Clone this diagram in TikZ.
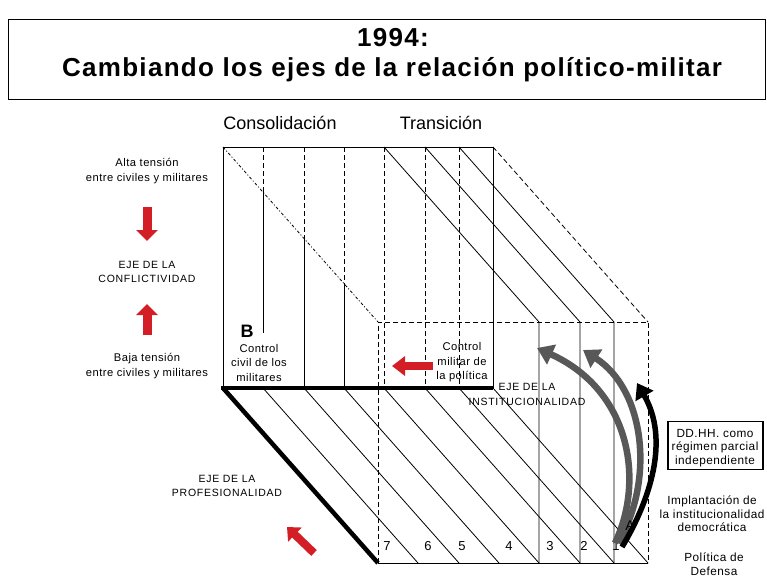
\documentclass[tikz,border=0pt]{standalone}
\usepackage{fontspec}
\setmainfont{Liberation Sans}
\newfontfamily\spacedfont[LetterSpace=4]{Liberation Sans}
\newfontfamily\capsfont[LetterSpace=7]{Liberation Sans}
\newfontfamily\titlefont[LetterSpace=5]{Liberation Sans}
\usetikzlibrary{arrows.meta}
\definecolor{redarr}{RGB}{210,30,36}
\definecolor{grayarr}{RGB}{88,88,88}
\begin{document}
\begin{tikzpicture}[x=1pt,y=-1pt,
  thinln/.style={line width=0.8pt},
  hidln/.style={line width=0.8pt, dash pattern=on 5pt off 3pt},
  dashdotln/.style={line width=0.8pt, dash pattern=on 3pt off 2pt on 1pt off 2pt},
  heavyln/.style={line width=4.5pt},
  lbl/.style={inner sep=0pt, align=center, font=\fontsize{11.2}{14.5}\spacedfont},
  rlbl/.style={inner sep=0pt, align=center, font=\fontsize{11.8}{13.7}\spacedfont},
  caplbl/.style={inner sep=0pt, align=center, font=\fontsize{10.5}{14.5}\capsfont},
  numlbl/.style={inner sep=0pt, font=\fontsize{13}{15}\selectfont},
  titletext/.style={inner sep=0pt, font=\fontsize{26}{30}\titlefont\bfseries},
  redblock/.style={redarr, line width=9pt, -{Triangle[length=11pt,width=21pt]}},
  grayarc/.style={grayarr, line width=6.5pt, -{Triangle[length=16pt,width=21pt]}},
  blackarc/.style={black, line width=5.5pt, -{Triangle[length=15pt,width=20pt]}}]
\useasboundingbox (0,0) rectangle (767,579);
% title
\node[draw, line width=1pt, minimum width=757pt, minimum height=80pt, inner sep=0pt] (titlebox) at (386.5,59) {};
\node[titletext] (t1) at (393,38) {1994:};
\node[titletext] (t2) at (392,70) {Cambiando los ejes de la relación político-militar};
% headers
\node[inner sep=0pt, font=\fontsize{18}{20}\selectfont] (cons) at (280,123) {Consolidación};
\node[inner sep=0pt, font=\fontsize{18}{20}\selectfont] (trans) at (441,123) {Transición};
% box corners
\coordinate (F1) at (223,147); \coordinate (F2) at (493,147);
\coordinate (F3) at (493,388); \coordinate (F4) at (223,388);
\coordinate (B1) at (378,322); \coordinate (B2) at (648,322);
\coordinate (B3) at (648,563); \coordinate (B4) at (378,563);
% left verticals
\foreach \x/\y/\e in {263/192.2/333, 304/238.5/388, 344/283.6/388}{
  \draw[hidln] (\x,147) -- (\x,\y);
  \draw[thinln] (\x,\y) -- (\x,\e);
}
% transition verticals + top diagonals + back verticals
\foreach \x in {384,425,459}{
  \draw[hidln] (\x,147) -- (\x,388);
  \draw[thinln] (\x,147) -- ({\x+155},322) -- ({\x+155},563);
}
% bottom face diagonals
\foreach \x in {263,304,344,384,425,459,493}{
  \draw[thinln] (\x,388) -- ({\x+155},563);
}
% hidden edges
\draw[dashdotln] (F1) -- (B1);
\draw[hidln] (B4) -- (B1) -- (B2) -- (B3);
\draw[hidln] (F2) -- (B2);
% visible edges
\draw[thinln] (F4) -- (F1) -- (F2) -- (F3);
\draw[thinln] (B4) -- (B3);
\draw[heavyln] (221,388) -- (F3);
\draw[heavyln] (F4) -- (B4);
% numbers
\node[numlbl] (n7) at (387,546) {7};
\node[numlbl] (n6) at (428,546) {6};
\node[numlbl] (n5) at (462,546) {5};
\node[numlbl] (n4) at (509,546) {4};
\node[numlbl] (n3) at (550,546) {3};
\node[numlbl] (n2) at (584,546) {2};
\node[numlbl] (n1) at (616,546) {1};
% left labels
\node[lbl] (alta) at (147,171) {Alta tensión\\entre civiles y militares};
\node[caplbl] (conf) at (147,272) {EJE DE LA\\CONFLICTIVIDAD};
\node[lbl] (baja) at (147,366) {Baja tensión\\entre civiles y militares};
\coordinate (dA) at (147,207); \coordinate (dB) at (147,241);
\coordinate (uA) at (147,335); \coordinate (uB) at (147,304);
\draw[redblock] (dA) -- (dB);
\draw[redblock] (uA) -- (uB);
% B and labels in front face
\node[inner sep=0pt, font=\fontsize{18}{20}\bfseries] (Blbl) at (247,331) {B};
\node[lbl] (civil) at (259,362.5) {Control\\civil de los\\militares};
\node[lbl] (milit) at (462,362.5) {Control\\militar de\\la política};
\coordinate (lA) at (433,366); \coordinate (lB) at (392,366);
\draw[redblock, line width=8pt, -{Triangle[length=13pt,width=19pt]}] (lA) -- (lB);
\node[caplbl] (inst) at (527,394.5) {EJE DE LA\\INSTITUCIONALIDAD};
\node[caplbl] (prof) at (227,486) {EJE DE LA\\PROFESIONALIDAD};
\coordinate (pA) at (314,553); \coordinate (pB) at (287,527);
\draw[redblock, line width=8pt, -{Triangle[length=11pt,width=19pt]}] (pA) -- (pB);
% right labels
\node[draw, line width=1.6pt, minimum width=95pt, minimum height=48pt, inner sep=0pt] (ddbox) at (715.5,445.5) {};
\node[rlbl] (dd) at (715,448) {DD.HH. como\\régimen parcial\\independiente};
\node[rlbl] (impl) at (712,514) {Implantación de\\la institucionalidad\\democrática};
\node[rlbl] (pol) at (714,564) {Política de\\Defensa};
% curved arrows
\coordinate (g1s) at (615,543); \coordinate (g1e) at (537,348);
\coordinate (g2s) at (618,543); \coordinate (g2e) at (583,350);
\coordinate (bks) at (622,547); \coordinate (bke) at (637,383);
\draw[grayarc] (g1s) .. controls (645,480) and (630,390) .. (g1e);
\draw[grayarc] (g2s) .. controls (655,480) and (645,390) .. (g2e);
\node[inner sep=0pt, font=\fontsize{14}{16}\selectfont] (Alb) at (630,526) {A};
\draw[blackarc] (bks) .. controls (650,500) and (670,440) .. (bke);
\end{tikzpicture}
\end{document}
